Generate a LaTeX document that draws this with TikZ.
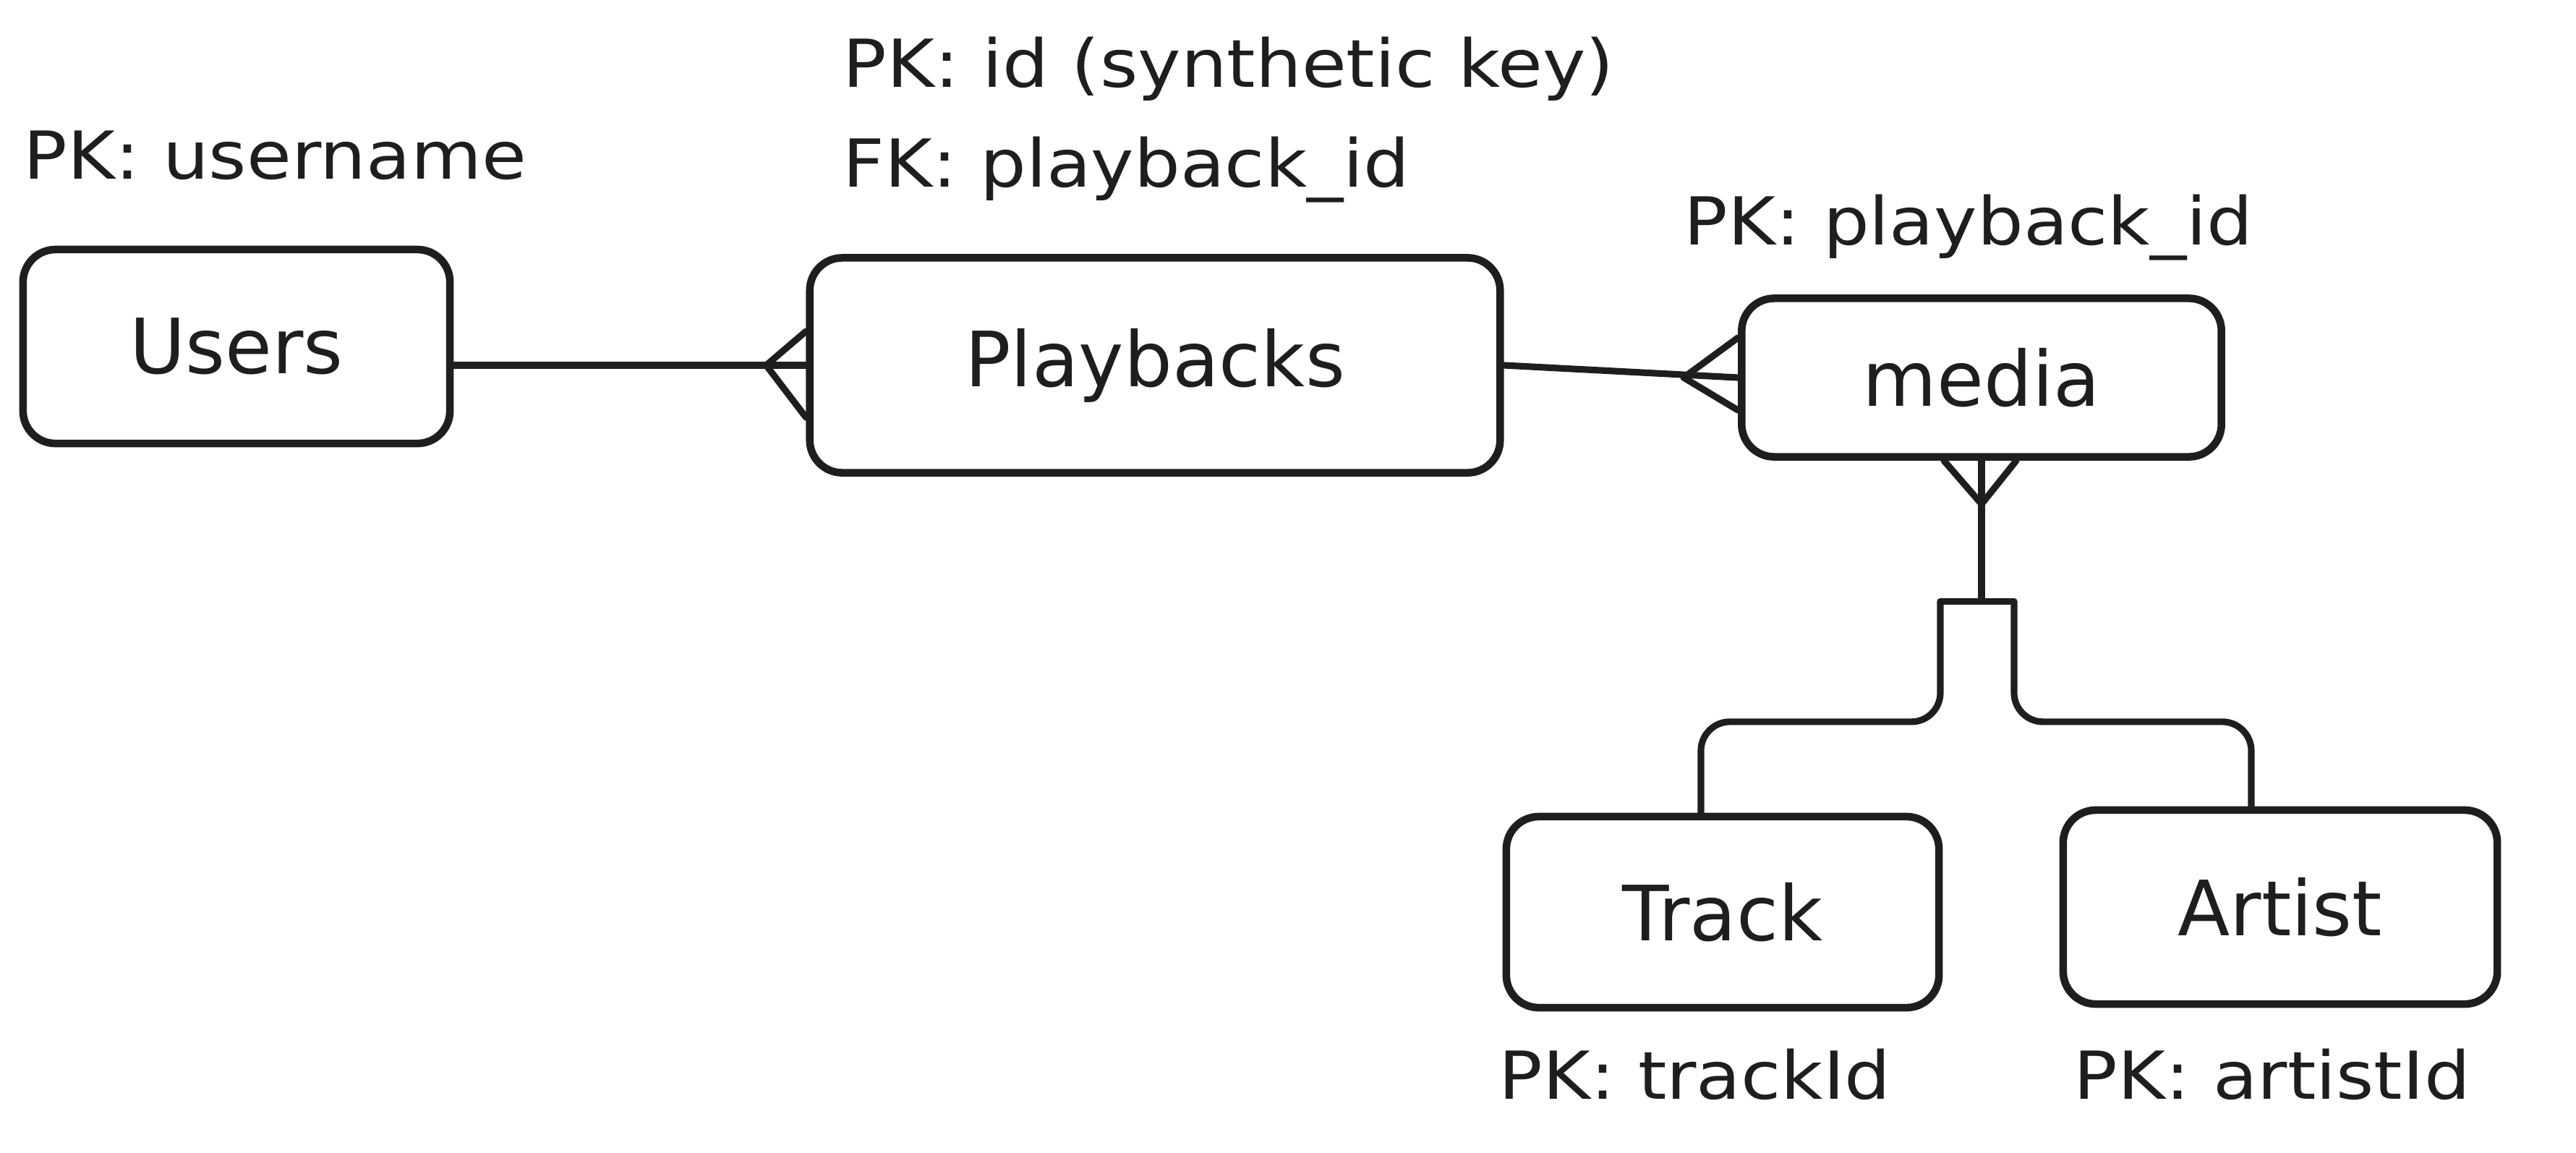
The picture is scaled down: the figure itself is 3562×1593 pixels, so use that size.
\documentclass[tikz,border=0pt]{standalone}
\usepackage{fontspec}
\setmainfont{DejaVu Sans}
\newfontfamily\keyfont[FakeStretch=1.1]{DejaVu Sans}
\usepackage{xcolor}
\definecolor{ink}{RGB}{30,30,30}

\begin{document}
\begin{tikzpicture}[x=0.01cm,y=-0.01cm,
  entity/.style={draw=ink,line width=3pt,rounded corners=0.45cm,inner sep=0pt,
    font=\fontsize{30}{36}\selectfont,text=ink},
  keytext/.style={anchor=west,inner sep=0pt,font=\keyfont\fontsize{26}{32}\selectfont,text=ink},
  conn/.style={draw=ink,line width=2.6pt,line cap=round,line join=round}]
\useasboundingbox (0,0) rectangle (3562,1593);
% tables
\node[entity,minimum width=5.9cm,minimum height=2.68cm] (users) at (327,479) {Users};
\node[entity,minimum width=9.54cm,minimum height=2.97cm] (play) at (1597,505) {Playbacks};
\node[entity,minimum width=6.63cm,minimum height=2.19cm] (media) at (2740,522) {media};
\node[entity,minimum width=5.98cm,minimum height=2.64cm] (track) at (2382,1261) {Track};
\node[entity,minimum width=6.0cm,minimum height=2.68cm] (artist) at (3153,1254) {Artist};
% keys
\node[keytext] (kusers) at (32,215) {PK: username};
\node[keytext] (kplay) at (1165,95) {PK: id (synthetic key)};
\node[keytext] (fplay) at (1165,235) {FK: playback\_id};
\node[keytext] (kmedia) at (2328,315) {PK: playback\_id};
\node[keytext] (ktrack) at (2072,1485) {PK: trackId};
\node[keytext] (kartist) at (2867,1485) {PK: artistId};
% relations
\draw[conn] (users.east |- play.west) -- (play.west);
\draw[conn] (play.west) +(-55,0) -- +(0,-47) (play.west) +(-55,0) -- +(0,72);
\draw[conn] (play.east) -- (media.west);
\draw[conn] (media.west) +(-75,0) -- +(0,-55) (media.west) +(-75,0) -- +(0,45);
\draw[conn] (media.south) -- ++(0,195) coordinate (jn);
\draw[conn] (media.south) +(0,60) -- +(-52,0) (media.south) +(0,60) -- +(48,0);
\draw[conn] (jn) ++(-57,0) coordinate (jl) -- ++(102,0) coordinate (jr);
\draw[conn,rounded corners=0.4cm] (jl) -- ++(0,166) -| ([xshift=-0.3cm]track.north);
\draw[conn,rounded corners=0.4cm] (jr) -- ++(0,166) -| ([xshift=-0.4cm]artist.north);
\end{tikzpicture}
\end{document}
